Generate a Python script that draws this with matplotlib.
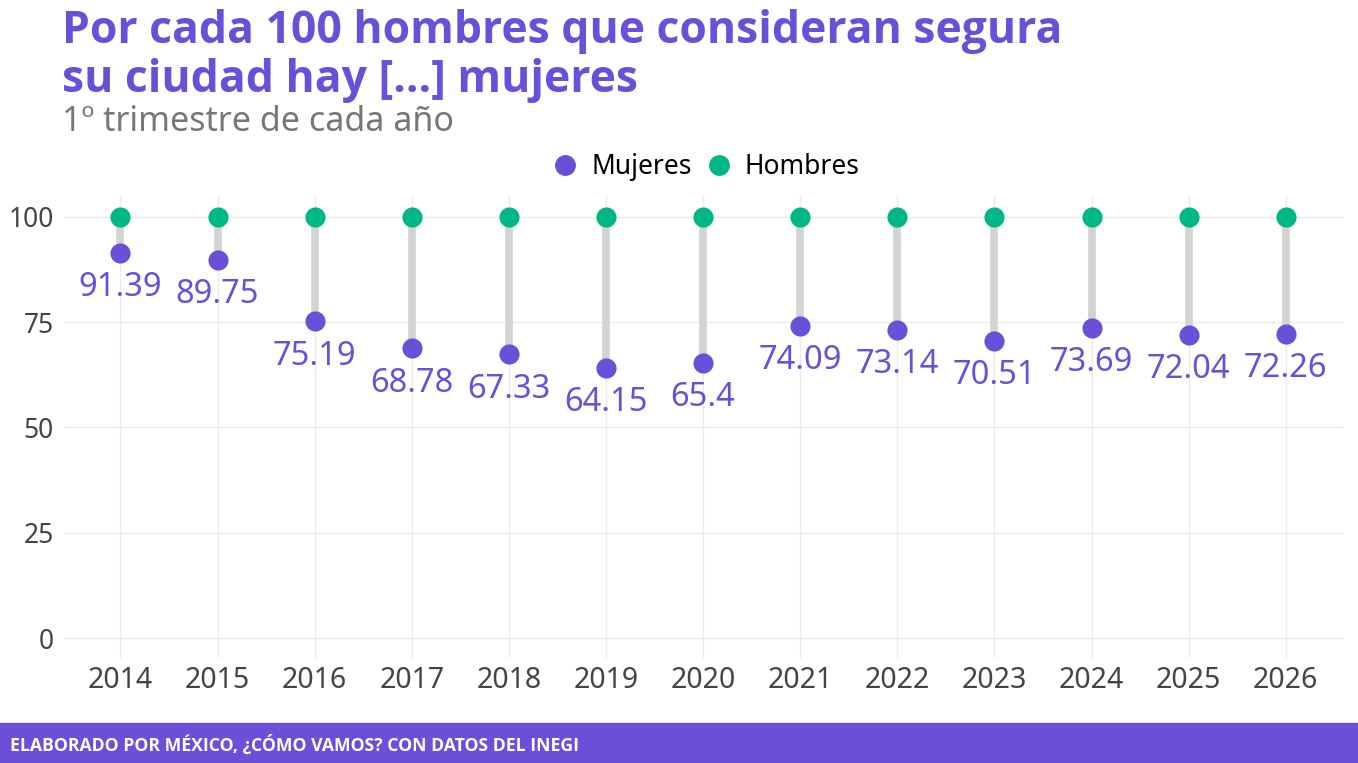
#!/usr/bin/env python3
# -*- coding: utf-8 -*-
"""Percepción de seguridad: mujeres por cada 100 hombres (gráfica de mancuernas)."""

import matplotlib
matplotlib.use("Agg")
import matplotlib.pyplot as plt
from matplotlib.lines import Line2D

# ---------------------------------------------------------------
# datos
# ---------------------------------------------------------------
years = [2014, 2015, 2016, 2017, 2018, 2019, 2020,
         2021, 2022, 2023, 2024, 2025, 2026]
mujeres = [91.39, 89.75, 75.19, 68.78, 67.33, 64.15, 65.4,
           74.09, 73.14, 70.51, 73.69, 72.04, 72.26]
hombres = [100] * len(years)
y_ticks = [0, 25, 50, 75, 100]

title = "Por cada 100 hombres que consideran segura\nsu ciudad hay [...] mujeres"
subtitle = "1º trimestre de cada año"
footer = "ELABORADO POR MÉXICO, ¿CÓMO VAMOS? CON DATOS DEL INEGI"

PURPLE = "#6A50D8"
GREEN = "#00B886"
SEG = "#D3D3CF"
GRID = "#EBEBEB"
BOLD = ['Open Sans', 'DejaVu Sans']

plt.rcParams['font.family'] = ['Noto Sans', 'DejaVu Sans']

fig = plt.figure(figsize=(13.58, 7.63), dpi=100)
ax = fig.add_axes([0.0479, 0.1376, 0.9411, 0.6068])

# segmentos
for x, m, h in zip(years, mujeres, hombres):
    ax.plot([x, x], [m, h], color=SEG, lw=5.5, solid_capstyle="butt", zorder=2)

ax.scatter(years, hombres, s=210, color=GREEN, zorder=3, linewidths=0)
ax.scatter(years, mujeres, s=210, color=PURPLE, zorder=3, linewidths=0)

for x, m in zip(years, mujeres):
    ax.annotate(f"{m:g}", (x, m), xytext=(0, -25), textcoords="offset points",
                ha="center", va="center", fontsize=23.5, color=PURPLE)

ax.set_xlim(2013.43, 2026.59)
ax.set_ylim(-4.75, 105.2)
ax.set_xticks(years)
ax.set_yticks(y_ticks)
ax.tick_params(axis="both", length=0, colors="#444444")
ax.tick_params(axis="x", pad=6, labelsize=20.5)
ax.tick_params(axis="y", pad=8, labelsize=19)
ax.grid(True, color=GRID, lw=1)
ax.set_axisbelow(True)
for s in ax.spines.values():
    s.set_visible(False)

# leyenda
handles = [Line2D([], [], marker="o", ls="", color=PURPLE, markersize=14, label="Mujeres"),
           Line2D([], [], marker="o", ls="", color=GREEN, markersize=14, label="Hombres")]
fig.legend(handles=handles, loc="center", bbox_to_anchor=(0.515, 0.781), ncol=2,
           frameon=False, fontsize=19, handletextpad=0.0, columnspacing=0.0)

# títulos
fig.text(0.046, 0.988, title, ha="left", va="top", fontsize=32, fontweight="bold",
         color=PURPLE, linespacing=1.1, family=BOLD)
fig.text(0.046, 0.84, subtitle, ha="left", va="center", fontsize=24.5, color="#777777")

# pie
fig.patches.append(plt.Rectangle((0, 0), 1, 40 / 763, transform=fig.transFigure,
                                 color=PURPLE, zorder=0))
fig.text(0.007, 18 / 763, footer, ha="left", va="center", fontsize=12.7,
         fontweight="bold", color="white", family=BOLD)

fig.savefig("out.png", dpi=100)
